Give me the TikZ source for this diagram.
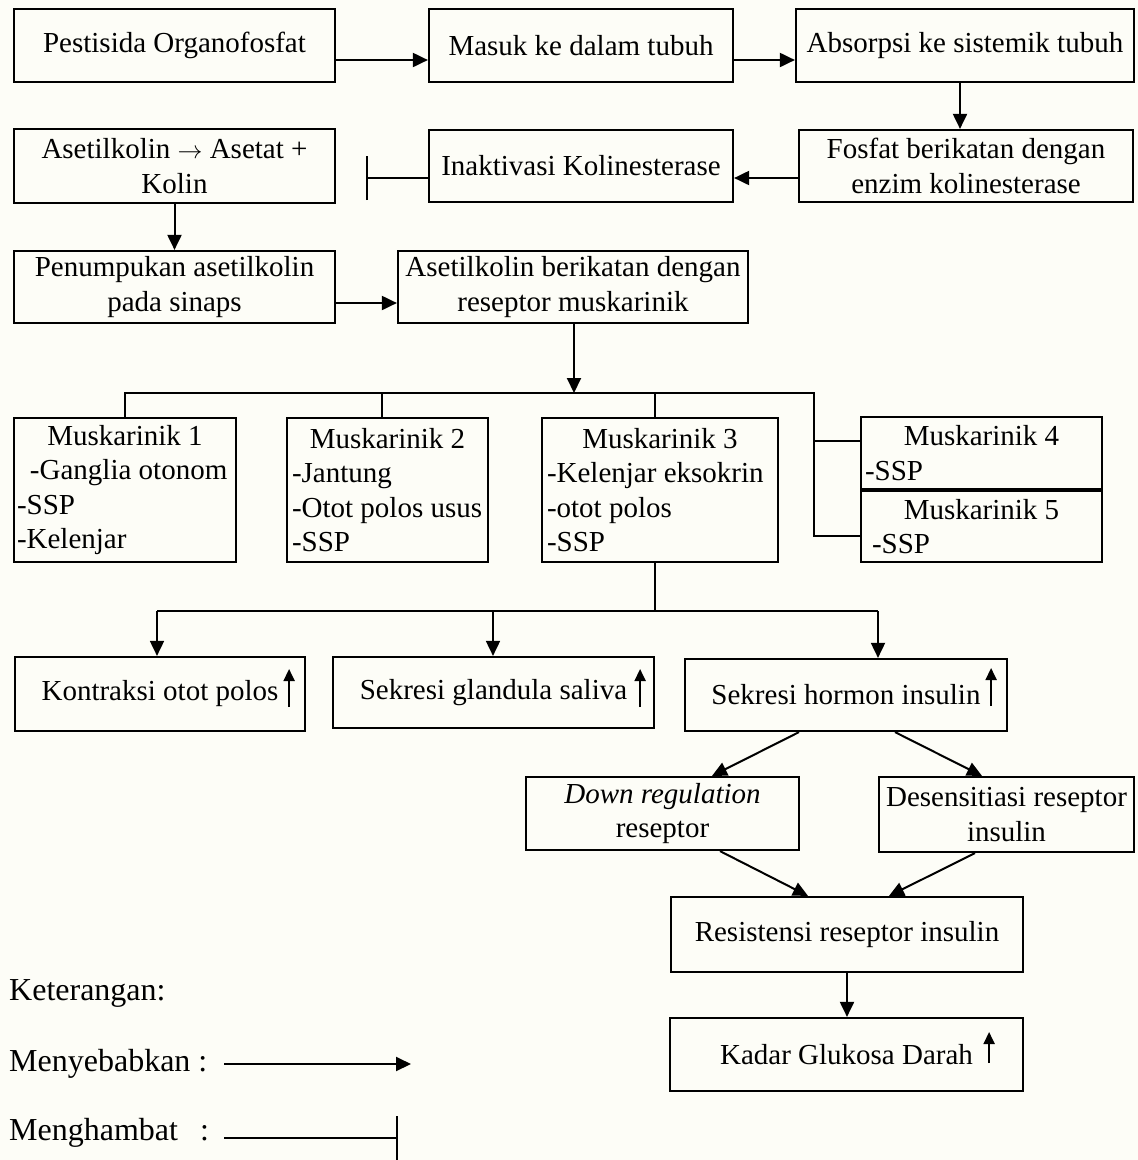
\documentclass[tikz,border=0pt]{standalone}
\usepackage{fontspec}
\setmainfont{Liberation Serif}
\usetikzlibrary{arrows.meta,calc}
\definecolor{bgc}{RGB}{253,253,247}
\begin{document}
\begin{tikzpicture}[x=1pt,y=-1pt,
  box/.style={draw, line width=2.2pt, inner sep=3pt, align=center, font=\fontsize{29}{34.5}\selectfont},
  legend/.style={inner sep=0pt, font=\fontsize{32}{38}\selectfont},
  arr/.style={line width=2pt, -{Triangle[length=15pt,width=14pt]}},
  inh/.style={line width=2pt, -{Bar[width=44pt]}},
  busline/.style={line width=1.6pt},
  uparr/.style={line width=2pt, -{Triangle[length=12pt,width=11pt]}},
]
\fill[bgc] (0,0) rectangle (1138,1160);
\useasboundingbox (0,0) rectangle (1138,1160);

% row 1
\node[box, minimum width=321pt, minimum height=73pt] (A) at (174.5,45.5) {Pestisida Organofosfat};
\node[box, minimum width=304pt, minimum height=73pt] (B) at (581,45.5) {Masuk ke dalam tubuh};
\node[box, minimum width=338pt, minimum height=73pt] (C) at (965,45.5) {Absorpsi ke sistemik tubuh};
% row 2
\node[box, minimum width=321pt, minimum height=74pt] (E) at (174.5,166) {Asetilkolin $\rightarrow$ Asetat +\\Kolin};
\node[box, minimum width=304pt, minimum height=72pt] (F) at (581,166) {Inaktivasi Kolinesterase};
\node[box, minimum width=334pt, minimum height=72pt] (D) at (966,166) {Fosfat berikatan dengan\\enzim kolinesterase};
% row 3
\node[box, minimum width=321pt, minimum height=72pt] (P) at (174.5,287) {Penumpukan asetilkolin\\pada sinaps};
\node[box, minimum width=350pt, minimum height=72pt] (Q) at (573,287) {Asetilkolin berikatan dengan\\reseptor muskarinik};
% muskarinik
\node[box, minimum width=222pt, minimum height=144pt] (M1) at (125,490)
  {Muskarinik 1\\\makebox[216pt][l]{\hspace*{13pt}-Ganglia otonom}\\\makebox[216pt][l]{-SSP}\\\makebox[216pt][l]{-Kelenjar}};
\node[box, minimum width=201pt, minimum height=144pt] (M2) at (387.5,490)
  {Muskarinik 2\\\makebox[191pt][l]{-Jantung}\\\makebox[191pt][l]{-Otot polos usus}\\\makebox[191pt][l]{-SSP}};
\node[box, minimum width=236pt, minimum height=144pt] (M3) at (660,490)
  {Muskarinik 3\\\makebox[226pt][l]{-Kelenjar eksokrin}\\\makebox[226pt][l]{-otot polos}\\\makebox[226pt][l]{-SSP}};
\node[box, minimum width=241pt, minimum height=72pt] (M4) at (981.5,453)
  {Muskarinik 4\\\makebox[233pt][l]{-SSP}};
\node[box, minimum width=241pt, minimum height=71pt] (M5) at (981.5,526.5)
  {Muskarinik 5\\\makebox[233pt][l]{\hspace*{7pt}-SSP}};
% effects
\node[box, minimum width=290pt, minimum height=74pt] (K) at (160,694) {Kontraksi otot polos};
\node[box, minimum width=321pt, minimum height=71pt] (S) at (493.5,692.5) {Sekresi glandula saliva};
\node[box, minimum width=322pt, minimum height=72pt] (H) at (846,695) {Sekresi hormon insulin};
\node[box, minimum width=273pt, minimum height=73pt] (DR) at (662.5,813.5) {\textit{Down regulation}\\reseptor};
\node[box, minimum width=255pt, minimum height=75pt] (DS) at (1006.5,814.5) {Desensitiasi reseptor\\insulin};
\node[box, minimum width=352pt, minimum height=75pt] (R) at (847,934.5) {Resistensi reseptor insulin};
\node[box, minimum width=353pt, minimum height=73pt] (G) at (846.5,1054.5) {Kadar Glukosa Darah};

% up arrows inside boxes
\draw[uparr] ($(K.east)+(-17,13)$) -- ($(K.east)+(-17,-25)$);
\draw[uparr] ($(S.east)+(-15,14.5)$) -- ($(S.east)+(-15,-23.5)$);
\draw[uparr] ($(H.east)+(-17,11)$) -- ($(H.east)+(-17,-27)$);
\draw[uparr] ($(G.east)+(-35,8.5)$) -- ($(G.east)+(-35,-22.5)$);

% top connectors
\draw[arr] ([yshift=-14.5pt]A.east) -- ([yshift=-14.5pt]B.west);
\draw[arr] ([yshift=-14.5pt]B.east) -- ([yshift=-14.5pt]C.west);
\draw[arr] ([xshift=-5pt]C.south) -- ([xshift=-5pt]C.south |- D.north);
\draw[arr] ([yshift=-12pt]D.west) -- ([yshift=-12pt]F.east);
\coordinate (barpt) at (366,178);
\draw[inh] ([yshift=-12pt]F.west) -- (barpt);
\draw[arr] (E.south) -- (E.south |- P.north);
\draw[arr] ([yshift=-16pt]P.east) -- ([yshift=-16pt]Q.west);

% bus to muskarinik
\coordinate (bus) at (574,393);
\coordinate (busR) at (814,393);
\coordinate (m3x) at (655,0);
\coordinate (m4c) at (814,441);
\coordinate (m5c) at (814,536);
\draw[arr] (bus |- Q.south) -- (bus);
\draw[busline] (M1.north) |- (busR) -- (m5c) -- (m5c -| M5.west);
\draw[busline] (m4c) -- (m4c -| M4.west);
\draw[busline] ([xshift=-5.5pt]M2.north) -- ([xshift=-5.5pt]M2.north |- bus);
\draw[busline] (m3x |- M3.north) -- (m3x |- bus);

% bus to effects
\coordinate (bus2) at (655,611);
\coordinate (b2L) at (157,611);
\coordinate (b2M) at (493,611);
\coordinate (b2R) at (878,611);
\draw[busline] (m3x |- M3.south) -- (bus2);
\draw[busline] (b2L) -- (b2R);
\draw[arr, line width=1.8pt] (b2L) -- (b2L |- K.north);
\draw[arr, line width=1.8pt] (b2M) -- (b2M |- S.north);
\draw[arr, line width=1.8pt] (b2R) -- (b2R |- H.north);

% diagonals
\draw[arr] ([xshift=-47pt]H.south) -- ([xshift=49.5pt]DR.north);
\draw[arr] ([xshift=49pt]H.south) -- ([xshift=-24.5pt]DS.north);
\draw[arr] ([xshift=57.5pt]DR.south) -- ([xshift=-39pt]R.north);
\draw[arr] ([xshift=-31.5pt]DS.south) -- ([xshift=42pt]R.north);
\draw[arr] (R.south) -- (R.south |- G.north);

% legend
\node[legend, anchor=base west] (ket) at (9,1000) {Keterangan:};
\node[legend, anchor=base west] (mny) at (9,1071) {Menyebabkan :};
\node[legend, anchor=base west] (mnh) at (9,1140) {Menghambat\hspace{22pt}:};
\coordinate (la1) at (224,1064);
\coordinate (la2) at (411,1064);
\coordinate (lb1) at (224,1138);
\coordinate (lb2) at (398,1138);
\draw[arr] (la1) -- (la2);
\draw[inh] (lb1) -- (lb2);
\end{tikzpicture}
\end{document}
